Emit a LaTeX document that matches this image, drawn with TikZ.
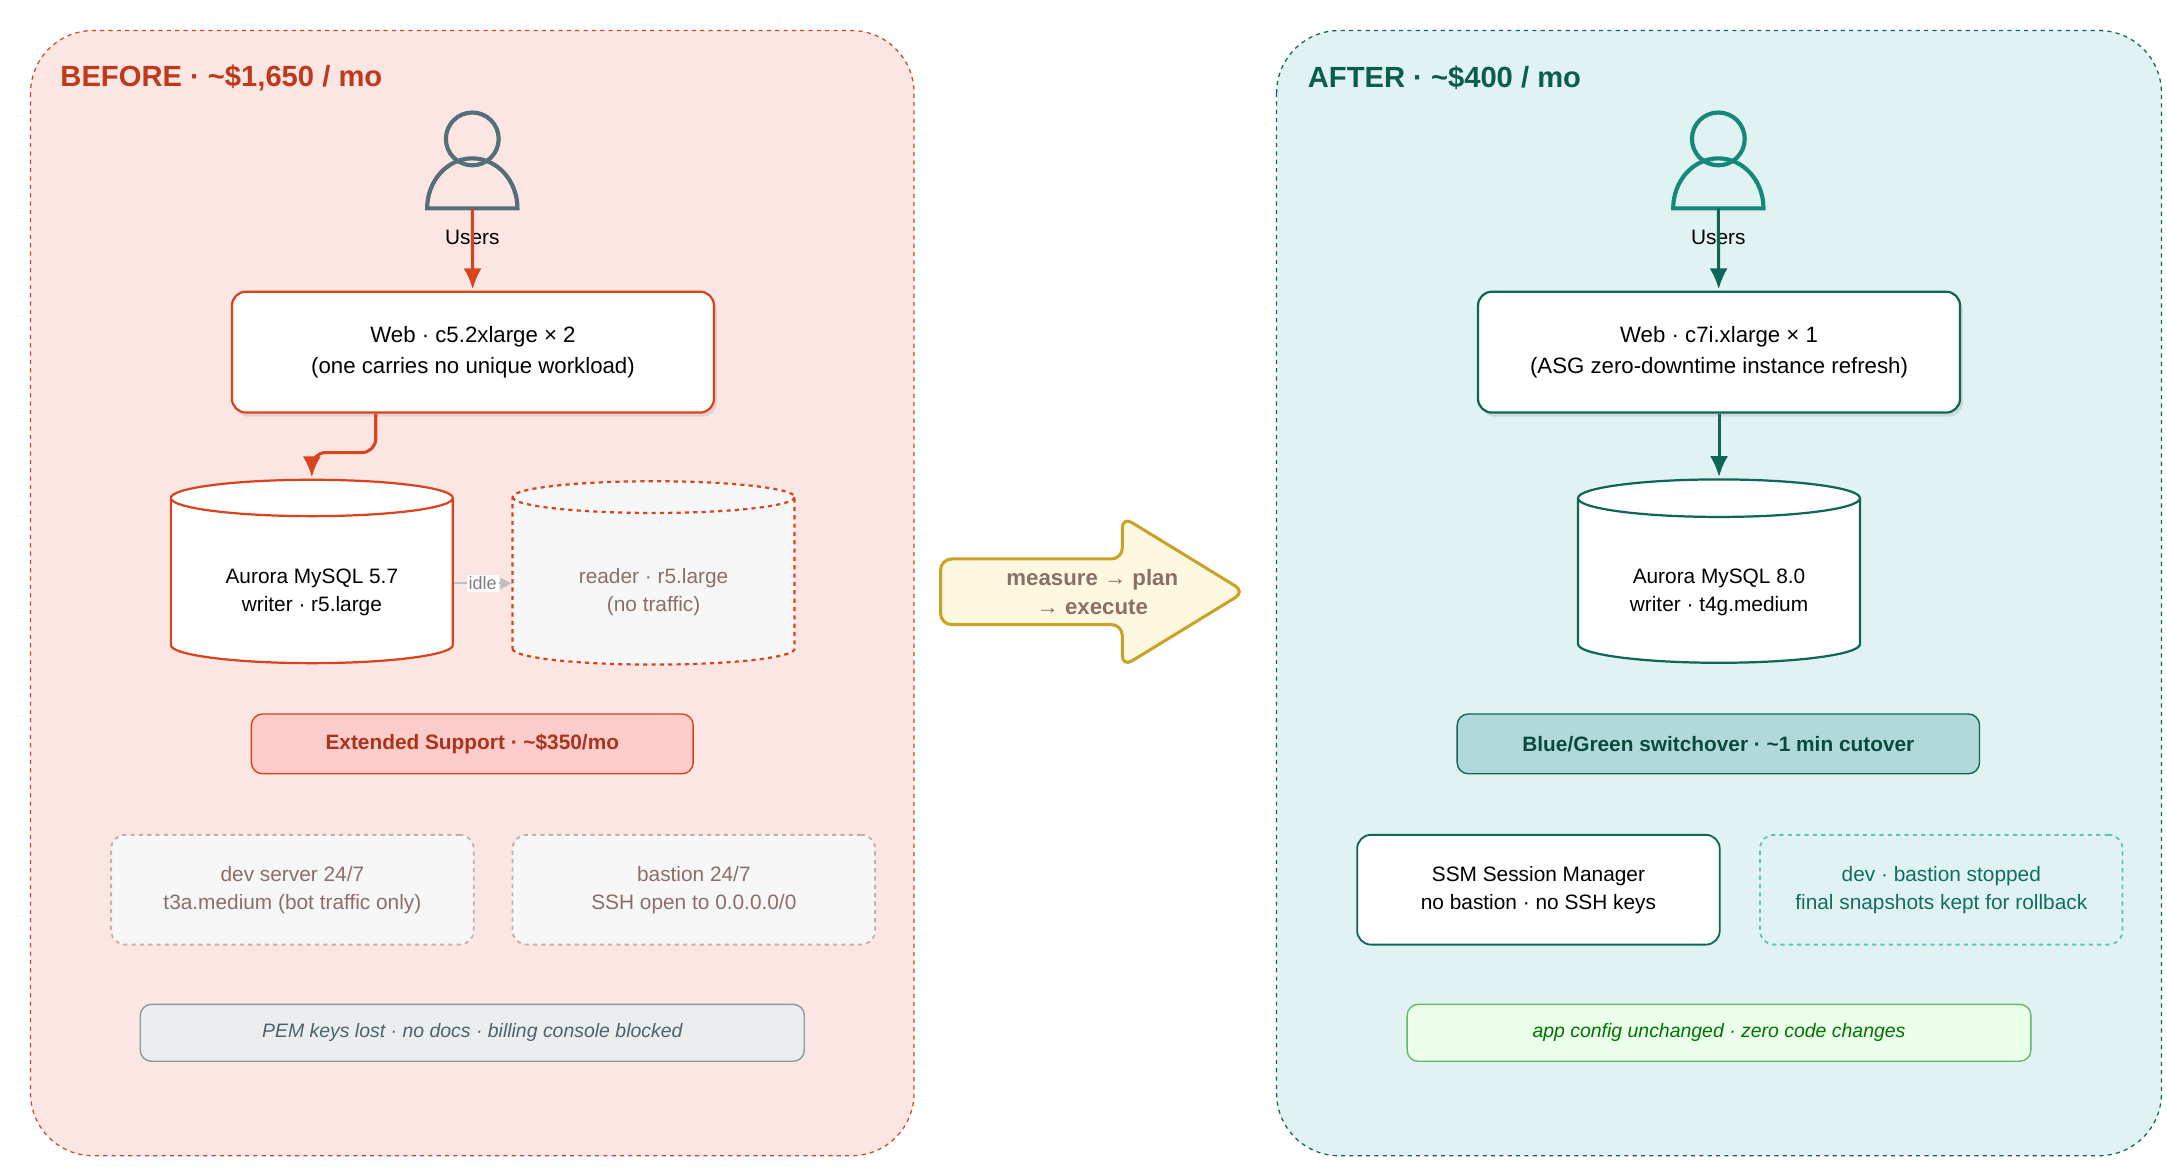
\documentclass[tikz,border=0pt]{standalone}
\usepackage{fontspec}
\setmainfont{Liberation Sans}
\usetikzlibrary{shapes.geometric,shapes.arrows,shadows,positioning,arrows.meta}
\definecolor{redln}{HTML}{D9441C}
\definecolor{redbg}{HTML}{FBE6E4}
\definecolor{redtx}{HTML}{C0391B}
\definecolor{slate}{HTML}{546E7A}
\definecolor{idlebg}{HTML}{F7F7F7}
\definecolor{idletx}{HTML}{8B6F66}
\definecolor{idleln}{HTML}{C4AFA9}
\definecolor{tealbg}{HTML}{E0F2F1}
\definecolor{tealln}{HTML}{0E6656}
\definecolor{tealtx}{HTML}{0B5E4A}
\definecolor{tealic}{HTML}{14897A}
\definecolor{teallt}{HTML}{5EC4B6}
\definecolor{goldln}{HTML}{C9A227}
\definecolor{goldbg}{HTML}{FFF8E1}

\tikzset{>={Latex[length=15, width=13]},
         panel/.style={draw, dashed, rounded corners=45, line width=0.9},
         title/.style={anchor=west, font=\fontsize{21}{24}\selectfont\bfseries},
         web/.style={draw, fill=white, line width=1.6, rounded corners=10, minimum width=347, minimum height=87,
                     align=center, font=\fontsize{16}{22}\selectfont, drop shadow={opacity=0.2, shadow xshift=2pt, shadow yshift=-3pt}},
         db/.style={draw, cylinder, shape border rotate=90, aspect=0.2, minimum width=203, minimum height=132,
                    line width=1.6, fill=white, font=\fontsize{15}{20}\selectfont},
         tag/.style={draw, rounded corners=8, minimum height=43, line width=1, align=center, font=\fontsize{15}{20}\selectfont\bfseries},
         ops/.style={draw, rounded corners=10, minimum width=261, minimum height=79, line width=1.3, align=center, font=\fontsize{15}{20}\selectfont},
         note/.style={draw, rounded corners=8, minimum height=41, line width=1, font=\fontsize{14}{18}\selectfont\itshape},
         flow/.style={->, line width=2.2, shorten >=1pt}}

\newcommand{\usericon}[2]{% center x, colour
  \draw[#2, line width=3] (#1,100) circle (19);
  \draw[#2, line width=3] (#1-32.5,150) arc[start angle=180, end angle=360, x radius=32.5, y radius=36] -- cycle;
}
\newcommand{\dblabel}[2]{\raisebox{-10pt}[0pt][0pt]{\begin{tabular}{@{}c@{}}#1\\#2\end{tabular}}}

\begin{document}
\begin{tikzpicture}[x=1pt, y=-1pt]
    \useasboundingbox (0,0) rectangle (1560,840);

    % before
    \draw[panel, draw=redln, fill=redbg] (22,22) rectangle (658,832);
    \node[title, text=redtx] (beforetitle) at (40,56) {BEFORE · \textasciitilde\$1,650 / mo};
    \usericon{340}{slate}
    \coordinate (users1) at (340,150);
    \node[font=\fontsize{15}{18}\selectfont] (users1label) at (340,171) {Users};
    \node[web, draw=redln] (web1) at (340.5,253.5) {Web · c5.2xlarge × 2\\(one carries no unique workload)};
    \node[db, draw=redln] (writer1) at (224.5,420) {\dblabel{Aurora MySQL 5.7}{writer · r5.large}};
    \node[db, draw=redln, dashed, fill=idlebg, text=idletx] (reader1) at (470.5,420) {\dblabel{reader · r5.large}{(no traffic)}};
    \node[tag, draw=redln, fill=red!20!white, text=redtx!90!black, minimum width=318] (support) at (340,535.5) {Extended Support · \textasciitilde\$350/mo};
    \node[ops, dashed, draw=idleln, fill=idlebg, text=idletx] (devserver) at (210.5,640.5) {dev server 24/7\\t3a.medium (bot traffic only)};
    \node[ops, dashed, draw=idleln, fill=idlebg, text=idletx] (bastion1) at (499.5,640.5) {bastion 24/7\\SSH open to 0.0.0.0/0};
    \node[note, draw=slate!70, fill=slate!12, text=slate!90!black, minimum width=478] (pem) at (340,743.5) {PEM keys lost · no docs · billing console blocked};

    \draw[flow, redln] (users1) -- (web1);
    \draw[flow, redln, rounded corners=10] ([xshift=-70]web1.south) -- ++(0,28) -| (writer1.north);
    \draw[-{Triangle[length=8, width=8]}, gray!50, line width=1.5] (writer1.east) -- node[fill=white, text=gray, inner sep=1.5, font=\fontsize{13}{14}\selectfont] {idle} (reader1.west);

    % shift
    \node[single arrow, draw=goldln, fill=goldbg, line width=2.2, rounded corners=8, minimum height=219, minimum width=108,
          single arrow head extend=22.5, single arrow tip angle=63, inner sep=0, align=center, anchor=tail,
          text=idletx, font=\fontsize{16}{21}\selectfont\bfseries] (shift) at (676,426)
          {\hspace*{38pt}measure → plan\\\hspace*{38pt}→ execute};

    % after
    \draw[panel, draw=tealln, fill=tealbg] (919,22) rectangle (1556,832);
    \node[title, text=tealtx] (aftertitle) at (938,56) {AFTER · \textasciitilde\$400 / mo};
    \usericon{1237}{tealic}
    \coordinate (users2) at (1237,150);
    \node[font=\fontsize{15}{18}\selectfont] (users2label) at (1237,171) {Users};
    \node[web, draw=tealln] (web2) at (1237.5,253.5) {Web · c7i.xlarge × 1\\(ASG zero-downtime instance refresh)};
    \node[db, draw=tealln] (writer2) at (1237.5,420) {\dblabel{Aurora MySQL 8.0}{writer · t4g.medium}};
    \node[tag, draw=tealln, fill=teal!30!white, text=tealtx!80!black, minimum width=376] (switch) at (1237,535.5) {Blue/Green switchover · \textasciitilde1 min cutover};
    \node[ops, draw=tealln, fill=white] (ssm) at (1107.5,640.5) {SSM Session Manager\\no bastion · no SSH keys};
    \node[ops, dashed, draw=teallt, fill=tealbg, text=tealic!80!black] (stopped) at (1397.5,640.5) {dev · bastion stopped\\final snapshots kept for rollback};
    \node[note, draw=green!55!black!60, fill=green!8, text=green!45!black, minimum width=449] (appcfg) at (1237.5,743.5) {app config unchanged · zero code changes};

    \draw[flow, tealln] (users2) -- (web2);
    \draw[flow, tealln] (web2) -- (writer2.north);
\end{tikzpicture}
\end{document}
